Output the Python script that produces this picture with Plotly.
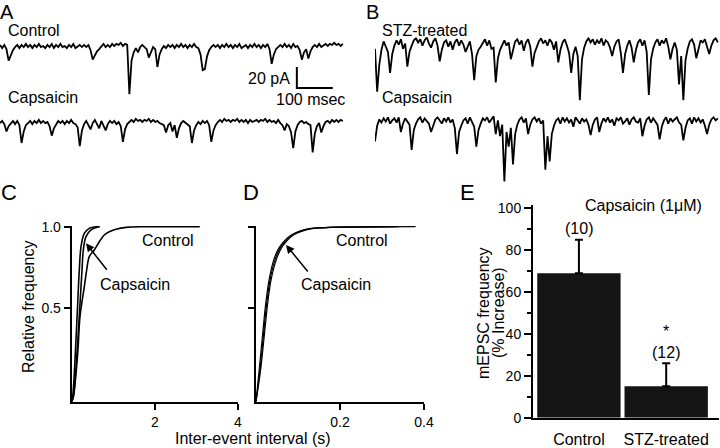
import plotly.graph_objects as go

FONT = "Liberation Sans, Arial, sans-serif"

# ---------------- Panel A / B : current traces (pA), one sample every 6 ms -------------
SAMPLE_MS = 6
ctrl_A = [1, -2, 1, -3, -14, -8, -4, -1, 1, -2, 1, -1, 2, -1, 1, -2, 1, -1, 2, -1,
          0, -2, 1, -1, 2, -2, 1, -1, 2, -1, 0, -2, 1, -1, 2, -2, 0, 1, -1, 1,
          -1, 1, -4, -13, -9, -5, -3, 0, 2, -1, 1, -1, 2, 0, 2, 1, 3, 0, 2, 1,
          -46, -14, -6, -2, -6, -1, 1, -1, -3, -11, -5, -1, -3, -20, -8, -3, 0, -2, 1, -1,
          1, -2, 1, -1, 2, -1, 1, -2, 1, -1, 2, -1, -2, -8, -23, -22, -10, -4, -1, 1,
          -1, 1, -2, 1, -1, 2, -1, 1, -2, 1, -1, 2, -2, 0, 1, -2, 1, -1, 2, -1,
          1, -2, 1, -1, 2, -3, -17, -8, -3, -1, 1, -1, 2, -1, 1, -2, 2, -1, 0, -4,
          -13, -6, -3, -12, -5, -1, 1, -1, 2, -1, 1, 2, 0, 2, 1, 3, 1, 2, 0, 2]
caps_A = [-1, 1, -2, -9, -4, -1, 1, -2, 1, -3, -20, -9, -3, -1, 1, -2, 1, -1, 2, -1,
          1, -1, 0, -4, -13, -6, -2, 1, -1, 1, -2, 1, -1, 2, -1, -2, -5, -23, -8, -2,
          1, -3, -7, -1, 2, -2, -6, 1, -3, -8, -2, 1, -1, 1, -2, 0, -4, -19, -7, -2,
          0, 2, 0, 3, 1, 2, 0, 2, 1, 3, 0, 2, 0, 1, -1, -2, -3, -10, -3, -1,
          -9, -3, -15, -6, -1, 1, -1, -2, -4, -20, -8, -3, 0, -2, 1, -1, 1, -3, -19, -8,
          -3, 0, 2, 0, 3, 1, 2, 0, 2, 1, 3, 0, 2, 0, 2, -1, 2, 0, 1, 2,
          0, 2, 1, 3, 0, 2, 0, 1, -1, 2, -1, -3, -8, -2, -4, -10, -25, -9, -3, 0,
          1, -1, 0, -2, -3, -29, -11, -4, -1, -10, -4, 0, 1, -1, 2, 0, 2, 0, 2, 1]
stz_B = [-5, -46, -20, -6, 2, -3, -8, -28, -10, -2, 3, -1, 4, -5, 0, -22, -8, -2, 3, 5,
         1, 4, -2, 3, 6, 0, -4, 2, 5, -2, -17, -6, 1, 3, -3, 2, -6, 1, 4, -2,
         3, -1, -8, -3, 2, -10, -35, -12, -6, -3, 1, 4, -2, 3, -5, -4, -37, -14, -6, -1,
         3, -2, 1, -15, -5, 2, 4, -1, 3, -7, 1, 4, -3, -22, -9, -3, 2, 5, 0, 3,
         -2, 4, 1, -6, 2, -18, -6, 1, 4, -2, -9, -28, -10, -3, -12, -54, -15, -4, 2, 5,
         1, 4, -1, 3, 0, 5, -2, 3, 1, -4, -12, -3, 2, 4, -9, -28, -10, -2, 3, -4,
         -18, -6, 1, 4, -2, 3, -8, -49, -15, -5, 1, 4, -2, 3, 0, 5, -3, -15, -5, 1,
         -6, -39, -12, -54, -16, -5, 2, 4, -1, -14, -4, 3, 1, 4, -3, -10, -2, 3, 5, 1]
caps_B = [-19, -4, 2, -1, 3, 0, 4, -2, 1, 3, -1, 4, -10, -2, 3, 0, -3, -27, -8, -2,
          2, 4, -1, 3, 0, -2, -10, -3, 2, 4, 1, -2, 3, 0, 4, -1, 2, -6, -31, -10,
          -4, 1, 3, -2, 4, 0, -5, -24, -8, -2, 3, 1, 4, -1, 2, 5, -12, 1, -14, -3,
          -57, -10, -24, -6, -41, -12, -3, 2, 4, -1, 3, -12, -3, 2, 4, 0, 3, -2, 1, -46,
          -14, -38, -12, -4, 1, 3, -2, 4, 0, 3, -1, 2, -5, 4, 1, -2, 3, 0, 2, -3,
          -13, -3, 2, 4, -10, -2, 3, 0, 4, -1, 2, -4, 3, 1, 4, -2, 0, 3, -3, 2,
          4, 0, -1, 3, -14, -4, 2, 4, -1, 3, 0, -3, -17, -5, 1, 4, -2, 3, 0, 2,
          4, -1, -3, -18, -6, 1, 3, -2, 4, 0, 3, -1, 2, -4, -12, -3, 2, 4, 1, 3]
SCALE_PA = 20
SCALE_MS = 100

# ---------------- Panel C : cumulative inter-event interval (s) ----------------
c_caps1_x = [0, 0.024, 0.087, 0.144, 0.183, 0.224, 0.303, 0.423, 0.625, 0.67]
c_caps1_y = [-0.075, -0.044, 0.222, 0.529, 0.734, 0.877, 0.959, 0.99, 1.0, 1.0]
c_caps2_x = [0, 0.04, 0.127, 0.2, 0.248, 0.28, 0.344, 0.464, 0.625, 0.67]
c_caps2_y = [-0.075, -0.044, 0.222, 0.529, 0.734, 0.857, 0.939, 0.98, 0.999, 1.0]
c_ctrl_x = [0, 0.04, 0.144, 0.2, 0.303, 0.36, 0.423, 0.543, 0.664, 0.784, 0.904, 1.065, 1.305, 1.786, 3.08]
c_ctrl_y = [-0.075, -0.044, 0.222, 0.45, 0.631, 0.734, 0.816, 0.857, 0.908, 0.949, 0.969, 0.984, 0.996, 1.0, 1.0]

# ---------------- Panel D ----------------
d_ctrl_x = [0, 0.0095, 0.0174, 0.0255, 0.0333, 0.045, 0.057, 0.069, 0.081, 0.097, 0.121, 0.144, 0.176, 0.38]
d_ctrl_y = [-0.075, 0.12, 0.324, 0.529, 0.672, 0.795, 0.867, 0.908, 0.939, 0.963, 0.984, 0.992, 0.996, 1.0]
d_caps1_x = [0, 0.0075, 0.0152, 0.0232, 0.031, 0.042, 0.054, 0.066, 0.078, 0.094, 0.118, 0.141, 0.173, 0.33]
d_caps1_y = [-0.075, 0.12, 0.324, 0.529, 0.672, 0.795, 0.867, 0.908, 0.939, 0.963, 0.984, 0.992, 0.996, 1.0]
d_caps2_x = [0, 0.011, 0.0195, 0.0278, 0.0358, 0.048, 0.06, 0.072, 0.084, 0.1, 0.124, 0.147, 0.179, 0.34]
d_caps2_y = [-0.075, 0.12, 0.324, 0.529, 0.672, 0.795, 0.867, 0.908, 0.939, 0.963, 0.984, 0.992, 0.996, 1.0]

# ---------------- Panel E ----------------
groups = ["Control", "STZ-treated"]
increase = [69, 15]
sem = [16, 11]
n_cells = ["(10)", "(12)"]
C_TICKS = [0.5, 1.0]
C_TICKTEXT = ["0.5", "1.0"]

W, H = 720, 448


def px(x):
    return x / W


def py(y):
    return 1 - y / H


fig = go.Figure()
line_k = dict(color="black", width=1.8)

for arr, ax in [(ctrl_A, 1), (caps_A, 2), (stz_B, 3), (caps_B, 4)]:
    fig.add_trace(go.Scatter(x=[i * SAMPLE_MS for i in range(len(arr))], y=arr,
                             mode="lines", line=line_k, xaxis=f"x{ax}", yaxis=f"y{ax}",
                             hoverinfo="skip"))

# scale bar in panel A
sb_x0 = 826
sb_y0 = -20
fig.add_trace(go.Scatter(x=[sb_x0, sb_x0, sb_x0 + SCALE_MS],
                         y=[sb_y0, sb_y0 - SCALE_PA, sb_y0 - SCALE_PA],
                         mode="lines", line=dict(color="black", width=2),
                         xaxis="x1", yaxis="y1", hoverinfo="skip"))

curve = dict(color="black", width=1.6)
for xs, ys in [(c_ctrl_x, c_ctrl_y), (c_caps2_x, c_caps2_y), (c_caps1_x, c_caps1_y)]:
    fig.add_trace(go.Scatter(x=xs, y=ys, mode="lines", line=curve, xaxis="x5", yaxis="y5",
                             line_shape="spline"))
for xs, ys in [(d_ctrl_x, d_ctrl_y), (d_caps1_x, d_caps1_y), (d_caps2_x, d_caps2_y)]:
    fig.add_trace(go.Scatter(x=xs, y=ys, mode="lines", line=dict(color="black", width=1.2),
                             xaxis="x6", yaxis="y6", line_shape="spline"))

fig.add_trace(go.Bar(x=[0, 1], y=increase, width=0.955, marker=dict(color="#151515", line=dict(width=0)),
                     error_y=dict(type="data", array=sem, arrayminus=[0, 0], symmetric=False,
                                  color="black", thickness=2, width=4),
                     xaxis="x7", yaxis="y7"))

hidden = dict(visible=False, showgrid=False, zeroline=False, fixedrange=True)
TR_RANGE = [-60, 6]


def trace_dom(baseline_px):
    top = baseline_px - 6 * 1.05
    bot = top + 66 * 1.05
    return [py(bot), py(top)]


layout = dict(
    width=W, height=H, margin=dict(l=0, r=0, t=0, b=0, autoexpand=False),
    paper_bgcolor="white", plot_bgcolor="rgba(0,0,0,0)", showlegend=False,
    font=dict(family=FONT, size=16, color="black"),
    xaxis=dict(hidden, domain=[0, px(345)], range=[0, 960], anchor="y"),
    yaxis=dict(hidden, domain=trace_dom(46), range=TR_RANGE, anchor="x"),
    xaxis2=dict(hidden, domain=[0, px(345)], range=[0, 960], anchor="y2"),
    yaxis2=dict(hidden, domain=trace_dom(122), range=TR_RANGE, anchor="x2"),
    xaxis3=dict(hidden, domain=[px(375), 1], range=[0, 960], anchor="y3"),
    yaxis3=dict(hidden, domain=trace_dom(43.5), range=TR_RANGE, anchor="x3"),
    xaxis4=dict(hidden, domain=[px(375), 1], range=[0, 960], anchor="y4"),
    yaxis4=dict(hidden, domain=trace_dom(121.5), range=TR_RANGE, anchor="x4"),
)

axis_common = dict(showline=True, linecolor="black", linewidth=2, ticks="outside",
                   ticklen=6, tickwidth=2, tickcolor="black", showgrid=False, zeroline=False,
                   tickfont=dict(size=14, family=FONT), fixedrange=True, automargin=False)

cy_dom = [py(401.7), py(225.9)]
layout["xaxis5"] = dict(axis_common, domain=[px(71.7), px(238)], range=[0, 4],
                        tickvals=[2, 4], ticktext=["2", "4"], anchor="y5")
layout["yaxis5"] = dict(axis_common, domain=cy_dom, range=[-0.075, 1.005],
                        tickvals=C_TICKS, ticktext=C_TICKTEXT, anchor="x5")
layout["xaxis6"] = dict(axis_common, domain=[px(256), px(424)], range=[0, 0.4],
                        tickvals=[0.2, 0.4], ticktext=["0.2", "0.4"], anchor="y6")
layout["yaxis6"] = dict(axis_common, domain=cy_dom, range=[-0.075, 1.005],
                        tickvals=C_TICKS, showticklabels=False, anchor="x6")
layout["xaxis7"] = dict(axis_common, domain=[px(533), px(719)], range=[-0.526, 1.605],
                        tickvals=[0, 1], ticktext=groups, ticks="", anchor="y7",
                        tickfont=dict(size=16, family=FONT), ticklabelstandoff=6)
layout["yaxis7"] = dict(axis_common, domain=[py(417.7), py(205.2)], range=[0, 101.5],
                        tickvals=[0, 20, 40, 60, 80, 100], ticklen=7, anchor="x7",
                        minor=dict(ticks="outside", tickvals=[10, 30, 50, 70, 90], ticklen=4,
                                   tickwidth=2, tickcolor="black"))
fig.update_layout(**layout)

ann = []


def txt(text, x, y, size=16, xanchor="left", yanchor="middle", **kw):
    ann.append(dict(text=text, x=x, y=y, xref="paper", yref="paper", showarrow=False,
                    xanchor=xanchor, yanchor=yanchor, font=dict(size=size, family=FONT, color="black"), **kw))


# panel letters
txt("A", px(-1), py(0), size=20, yanchor="top", borderpad=0)
txt("B", px(365), py(0), size=20, yanchor="top", borderpad=0)
txt("C", px(-1), py(192), size=22)
txt("D", px(241), py(192), size=22)
txt("E", px(458), py(192), size=22)
# trace labels
txt("Control", px(6), py(30.5))
txt("Capsaicin", px(6), py(97))
txt("STZ-treated", px(380), py(30.5))
txt("Capsaicin", px(380), py(97))
# scale bar labels
ann.append(dict(text=f"{SCALE_PA} pA", x=sb_x0, y=sb_y0 - SCALE_PA * 0.55, xref="x1", yref="y1",
                showarrow=False, xanchor="right", yanchor="middle", xshift=-5,
                font=dict(size=16, family=FONT)))
ann.append(dict(text=f"{SCALE_MS} msec", x=sb_x0 + SCALE_MS / 2 - 12, y=sb_y0 - SCALE_PA, xref="x1",
                yref="y1", showarrow=False, xanchor="center", yanchor="top", yshift=-1,
                font=dict(size=16, family=FONT)))
# axis titles
txt("Relative frequency", px(28), py(307), textangle=-90, xanchor="center")
txt("Inter-event interval (s)", px(253), py(438), xanchor="center")
txt("mEPSC frequency", px(483), py(313), textangle=-90, xanchor="center")
txt("(% Increase)", px(498), py(313), textangle=-90, xanchor="center")
txt("Capsaicin (1\u03bcM)", px(643.5), py(205), xanchor="center")

# C / D curve labels and arrows
for xr, yr, ctrl_xy, caps_xy, head, tail in [
    ("x5", "y5", (2.31, 0.918), (1.52, 0.642), (0.344, 0.898), (22, 28)),
    ("x6", "y6", (0.252, 0.918), (0.19, 0.642), (0.0714, 0.888), (23, 28)),
]:
    ann.append(dict(text="Control", x=ctrl_xy[0], y=ctrl_xy[1], xref=xr, yref=yr, showarrow=False,
                    font=dict(size=16, family=FONT)))
    ann.append(dict(text="Capsaicin", x=caps_xy[0], y=caps_xy[1], xref=xr, yref=yr, showarrow=False,
                    font=dict(size=16, family=FONT)))
    ann.append(dict(text="", x=head[0], y=head[1], xref=xr, yref=yr, showarrow=True,
                    ax=tail[0], ay=tail[1], arrowhead=2, arrowsize=1.1, arrowwidth=1.5,
                    arrowcolor="black", standoff=0))

# E: n labels and significance
ann.append(dict(text=n_cells[0], x=0, y=increase[0] + sem[0], xref="x7", yref="y7", showarrow=False,
                yanchor="middle", yshift=11, font=dict(size=16, family=FONT)))
ann.append(dict(text="*<br>" + n_cells[1], x=1, y=increase[1] + sem[1], xref="x7", yref="y7",
                showarrow=False, yanchor="bottom", yshift=0, font=dict(size=16, family=FONT)))

fig.update_layout(annotations=ann)
fig.write_html("out.html", config={"displayModeBar": False, "staticPlot": True},
               post_script="document.body.style.margin='0px';")
